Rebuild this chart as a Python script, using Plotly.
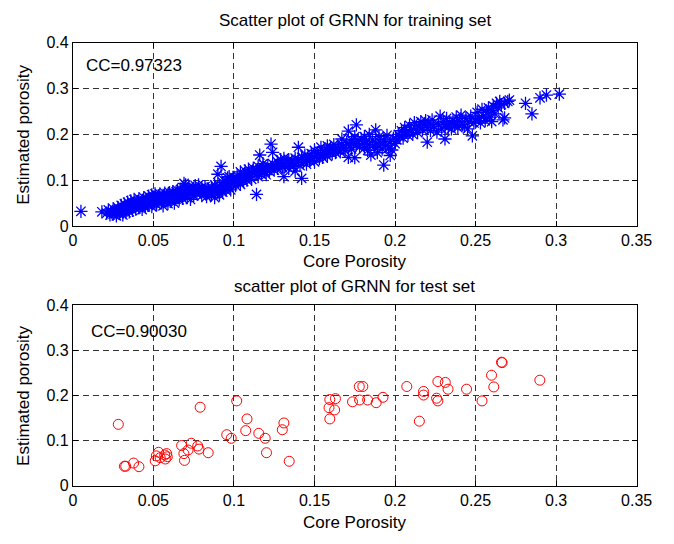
import plotly.graph_objects as go
from plotly.subplots import make_subplots

# ---------------- data ----------------
train_core = [
    0.005, 0.018, 0.021, 0.022, 0.023, 0.024, 0.025, 0.025, 0.026, 0.027, 0.027, 0.028, 0.028, 0.029, 0.030, 0.030, 0.031, 0.031,
    0.032, 0.032, 0.033, 0.033, 0.034, 0.034, 0.035, 0.035, 0.036, 0.036, 0.037, 0.037, 0.038, 0.038, 0.039, 0.039, 0.040, 0.040,
    0.041, 0.041, 0.042, 0.042, 0.043, 0.043, 0.044, 0.044, 0.045, 0.045,
    0.046, 0.046, 0.047, 0.047, 0.048, 0.048, 0.049, 0.049, 0.050, 0.050, 0.051, 0.051, 0.052, 0.052, 0.053, 0.053, 0.054, 0.054,
    0.055, 0.055, 0.056, 0.056, 0.057, 0.057, 0.058, 0.058, 0.059, 0.059, 0.060, 0.060,
    0.061, 0.061, 0.062, 0.062, 0.063, 0.063, 0.064, 0.064, 0.065, 0.065, 0.066, 0.066, 0.067, 0.067, 0.068, 0.068, 0.069, 0.069,
    0.070, 0.070, 0.071, 0.071, 0.072, 0.072, 0.073, 0.073, 0.074, 0.075, 0.075,
    0.076, 0.076, 0.077, 0.078, 0.078, 0.079, 0.080, 0.080, 0.081, 0.082, 0.082, 0.083, 0.084, 0.084, 0.085, 0.086, 0.086, 0.087,
    0.088, 0.088, 0.089, 0.090, 0.090, 0.092,
    0.091, 0.091, 0.092, 0.093, 0.093, 0.094, 0.095, 0.095, 0.096, 0.096, 0.097, 0.097, 0.098, 0.098, 0.099, 0.100, 0.100, 0.101,
    0.102, 0.102, 0.103, 0.104, 0.104, 0.105,
    0.106, 0.106, 0.107, 0.107, 0.108, 0.109, 0.109, 0.110, 0.111, 0.111, 0.112, 0.113, 0.114, 0.114, 0.115, 0.115, 0.116, 0.116,
    0.117, 0.118, 0.118, 0.119, 0.120, 0.120,
    0.121, 0.122, 0.123, 0.124, 0.123, 0.124, 0.125, 0.126, 0.127, 0.127, 0.128, 0.129, 0.130, 0.130, 0.131, 0.131, 0.132, 0.133,
    0.134, 0.134, 0.135,
    0.136, 0.137, 0.138, 0.138, 0.139, 0.140, 0.140, 0.141, 0.142, 0.142, 0.143, 0.144, 0.145, 0.145, 0.146, 0.147, 0.148, 0.149,
    0.150, 0.150,
    0.151, 0.152, 0.153, 0.154, 0.154, 0.155, 0.156, 0.157, 0.158, 0.158, 0.159, 0.160, 0.161, 0.162, 0.162, 0.163, 0.164, 0.165,
    0.166, 0.167, 0.167, 0.168, 0.169, 0.170, 0.171, 0.171, 0.172, 0.173, 0.173, 0.174, 0.175, 0.175, 0.176, 0.176, 0.177, 0.178,
    0.179, 0.180,
    0.181, 0.181, 0.182, 0.183, 0.184, 0.184, 0.185, 0.186, 0.187, 0.188, 0.188, 0.189, 0.190, 0.190, 0.191, 0.192, 0.193, 0.193,
    0.194, 0.195, 0.196, 0.197, 0.197, 0.198, 0.199, 0.200,
    0.201, 0.202, 0.203, 0.204, 0.205, 0.206, 0.207, 0.208, 0.209, 0.210, 0.211, 0.212, 0.213, 0.214, 0.215, 0.216, 0.217, 0.218,
    0.219, 0.220, 0.220, 0.221, 0.222, 0.223, 0.224,
    0.226, 0.227, 0.228, 0.229, 0.230, 0.231, 0.231, 0.232, 0.233, 0.234, 0.235, 0.236, 0.237, 0.238, 0.239, 0.240, 0.241, 0.242,
    0.243, 0.244, 0.245, 0.246, 0.247, 0.248, 0.249, 0.250,
    0.251, 0.252, 0.253, 0.254, 0.255, 0.256, 0.257, 0.258, 0.259, 0.260, 0.260, 0.261, 0.262, 0.263, 0.264, 0.265, 0.266, 0.267,
    0.268, 0.268, 0.270, 0.271,
    0.281, 0.285, 0.290, 0.294, 0.302,
]
train_est = [
    0.032, 0.031, 0.028, 0.035, 0.024, 0.030, 0.038, 0.026, 0.033, 0.022, 0.029, 0.040, 0.034, 0.027, 0.036, 0.045, 0.031, 0.024,
    0.040, 0.048, 0.035, 0.029, 0.044, 0.052, 0.038, 0.031, 0.047, 0.055, 0.041, 0.034, 0.050, 0.058, 0.044, 0.037, 0.053, 0.047,
    0.040, 0.060, 0.050, 0.044, 0.056, 0.036, 0.062, 0.048, 0.054, 0.042,
    0.058, 0.050, 0.065, 0.045, 0.060, 0.053, 0.068, 0.042, 0.057, 0.063, 0.050, 0.070, 0.060, 0.046, 0.066, 0.055, 0.062, 0.070,
    0.051, 0.058, 0.067, 0.044, 0.061, 0.072, 0.055, 0.064, 0.069, 0.049, 0.060, 0.073,
    0.065, 0.055, 0.070, 0.075, 0.060, 0.050, 0.068, 0.074, 0.062, 0.078, 0.057, 0.070, 0.066, 0.080, 0.073, 0.060, 0.077, 0.093,
    0.068, 0.090, 0.062, 0.080, 0.074, 0.085, 0.070, 0.058, 0.078, 0.083, 0.066,
    0.075, 0.088, 0.070, 0.080, 0.090, 0.074, 0.084, 0.066, 0.078, 0.072, 0.086, 0.064, 0.080, 0.075, 0.070, 0.085, 0.068, 0.078,
    0.090, 0.062, 0.083, 0.073, 0.113, 0.130,
    0.068, 0.088, 0.080, 0.095, 0.074, 0.087, 0.100, 0.078, 0.092, 0.105, 0.085, 0.108, 0.096, 0.079, 0.100, 0.093, 0.106, 0.088,
    0.102, 0.110, 0.097, 0.118, 0.091, 0.104,
    0.112, 0.097, 0.120, 0.105, 0.100, 0.115, 0.124, 0.108, 0.118, 0.102, 0.126, 0.112, 0.069, 0.120, 0.130, 0.108, 0.155, 0.122,
    0.114, 0.128, 0.136, 0.118, 0.125, 0.112,
    0.132, 0.120, 0.179, 0.161, 0.128, 0.136, 0.122, 0.130, 0.140, 0.126, 0.134, 0.145, 0.128, 0.138, 0.108, 0.148, 0.132, 0.140,
    0.126, 0.145, 0.136,
    0.142, 0.130, 0.148, 0.120, 0.138, 0.172, 0.145, 0.132, 0.104, 0.150, 0.140, 0.155, 0.135, 0.145, 0.152, 0.142, 0.158, 0.148,
    0.165, 0.140,
    0.153, 0.160, 0.147, 0.172, 0.155, 0.150, 0.165, 0.158, 0.175, 0.152, 0.162, 0.170, 0.158, 0.178, 0.165, 0.160, 0.172, 0.167,
    0.162, 0.178, 0.190, 0.170, 0.165, 0.182, 0.207, 0.150, 0.175, 0.188, 0.168, 0.180, 0.149, 0.195, 0.221, 0.177, 0.185, 0.172,
    0.190, 0.180,
    0.195, 0.170, 0.185, 0.165, 0.200, 0.178, 0.155, 0.188, 0.172, 0.210, 0.182, 0.160, 0.175, 0.195, 0.182, 0.168, 0.133, 0.188,
    0.176, 0.198, 0.170, 0.154, 0.185, 0.166, 0.192, 0.180,
    0.188, 0.200, 0.195, 0.208, 0.192, 0.215, 0.205, 0.198, 0.220, 0.210, 0.200, 0.226, 0.212, 0.204, 0.218, 0.228, 0.210, 0.222,
    0.230, 0.183, 0.215, 0.225, 0.208, 0.232, 0.218,
    0.205, 0.222, 0.240, 0.212, 0.228, 0.190, 0.218, 0.235, 0.215, 0.225, 0.212, 0.230, 0.220, 0.238, 0.215, 0.228, 0.242, 0.222,
    0.218, 0.235, 0.212, 0.228, 0.240, 0.197, 0.225, 0.232,
    0.248, 0.236, 0.225, 0.255, 0.240, 0.230, 0.248, 0.258, 0.238, 0.252, 0.228, 0.262, 0.245, 0.268, 0.258, 0.272, 0.265, 0.232,
    0.236, 0.268, 0.272, 0.275,
    0.268, 0.245, 0.280, 0.286, 0.288,
]

test_core = [
    0.0282, 0.0320, 0.0328, 0.0377, 0.0410, 0.0511, 0.0518, 0.0532, 0.0542, 0.0570, 0.0574, 0.0582, 0.0586,
    0.0675, 0.0689, 0.0693, 0.0715, 0.0735, 0.0775, 0.0783, 0.0790, 0.0840, 0.0955, 0.0983, 0.1017,
    0.1073, 0.1081, 0.1154, 0.1194, 0.1202, 0.1300, 0.1310, 0.1343,
    0.1595, 0.1590, 0.1595, 0.1630, 0.1625, 0.1736, 0.1778, 0.1800, 0.1780, 0.1830, 0.1883, 0.1925,
    0.2073, 0.2151, 0.2177, 0.2177, 0.2258, 0.2266, 0.2266, 0.2312, 0.2329, 0.2444, 0.2540,
    0.2599, 0.2613, 0.2661, 0.2665, 0.2899,
]
test_est = [
    0.136, 0.043, 0.043, 0.050, 0.042, 0.055, 0.066, 0.074, 0.062, 0.068, 0.059, 0.071, 0.064,
    0.089, 0.071, 0.056, 0.079, 0.094, 0.088, 0.081, 0.174, 0.073, 0.113, 0.105, 0.188,
    0.122, 0.148, 0.116, 0.105, 0.073, 0.124, 0.139, 0.054,
    0.191, 0.173, 0.148, 0.193, 0.168, 0.186, 0.220, 0.220, 0.190, 0.190, 0.184, 0.196,
    0.220, 0.143, 0.209, 0.201, 0.194, 0.231, 0.188, 0.229, 0.214, 0.214, 0.188,
    0.245, 0.219, 0.274, 0.273, 0.234,
]

x_ticks = [0, 0.05, 0.1, 0.15, 0.2, 0.25, 0.3, 0.35]
x_tick_text = ["0", "0.05", "0.1", "0.15", "0.2", "0.25", "0.3", "0.35"]
y_ticks = [0, 0.1, 0.2, 0.3, 0.4]
y_tick_text = ["0", "0.1", "0.2", "0.3", "0.4"]

title_train = "Scatter plot of GRNN for training set"
title_test = "scatter plot of GRNN for test set"
x_label = "Core Porosity"
y_label = "Estimated porosity"
cc_train = "CC=0.97323"
cc_test = "CC=0.90030"

# ---------------- figure ----------------
W, H = 674, 544
FONT = "Liberation Sans, Arial, Helvetica, sans-serif"
FS = 16
FS_T = 17

fig = make_subplots(rows=2, cols=1)

fig.add_trace(go.Scatter(
    x=train_core, y=train_est, mode="markers",
    marker=dict(symbol="asterisk-open", size=11, color="#0000FF",
                line=dict(color="#0000FF", width=1.3)),
    showlegend=False), row=1, col=1)

fig.add_trace(go.Scatter(
    x=test_core, y=test_est, mode="markers",
    marker=dict(symbol="circle-open", size=10, color="#FF0000",
                line=dict(color="#FF0000", width=1)),
    showlegend=False), row=2, col=1)

xdom = [71 / W, 652 / W]
ydom_top = [1 - 225 / H, 1 - 36 / H]
ydom_bot = [1 - 493 / H, 1 - 307 / H]

axis_common = dict(
    showline=True, linecolor="black", linewidth=1, mirror="allticks",
    ticks="inside", ticklen=5, tickcolor="black", tickwidth=1,
    showgrid=True, gridcolor="#333333", gridwidth=1, griddash="6px,4px",
    zeroline=False, tickfont=dict(family=FONT, size=FS, color="black"),
)

fig.update_xaxes(domain=xdom, range=[0, 0.35], tickmode="array",
                 tickvals=x_ticks, ticktext=x_tick_text, **axis_common)
fig.update_yaxes(range=[0, 0.4], tickmode="array",
                 tickvals=y_ticks, ticktext=y_tick_text, **axis_common)
fig.update_yaxes(domain=ydom_top, row=1, col=1)
fig.update_yaxes(domain=ydom_bot, row=2, col=1)

def ann(text, x, y, size=FS, **kw):
    d = dict(text=text, x=x, y=y, xref="paper", yref="paper", showarrow=False,
             font=dict(family=FONT, size=size, color="black"))
    d.update(kw)
    return d

xc = (71 + 652) / 2 / W
annotations = [
    ann(title_train, xc, 1 - 13 / H, size=FS_T, xanchor="center", yanchor="middle"),
    ann(x_label, xc, 1 - 262 / H, size=FS_T, xanchor="center", yanchor="middle"),
    ann(title_test, xc, 1 - 287 / H, size=FS_T, xanchor="center", yanchor="middle"),
    ann(x_label, xc, 1 - 531 / H, size=FS_T, xanchor="center", yanchor="middle"),
    ann(y_label, 20 / W, 1 - 130.5 / H, size=FS_T, xanchor="center", yanchor="middle", textangle=-90),
    ann(y_label, 20 / W, 1 - 400 / H, size=FS_T, xanchor="center", yanchor="middle", textangle=-90),
    dict(text=cc_train, x=0.0072, y=0.351, xref="x", yref="y", showarrow=False,
         xanchor="left", yanchor="middle", font=dict(family=FONT, size=FS_T, color="black")),
    dict(text=cc_test, x=0.010, y=0.343, xref="x2", yref="y2", showarrow=False,
         xanchor="left", yanchor="middle", font=dict(family=FONT, size=FS_T, color="black")),
]

fig.update_layout(
    width=W, height=H, margin=dict(l=0, r=0, t=0, b=0),
    paper_bgcolor="white", plot_bgcolor="white",
    annotations=annotations, showlegend=False,
    font=dict(family=FONT, size=FS, color="black"),
)

fig.write_html("out.html")
